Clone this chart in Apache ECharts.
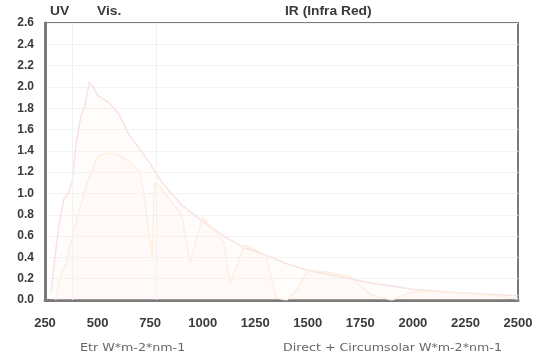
<!DOCTYPE html>
<html>
<head>
<meta charset="utf-8">
<script src="https://cdn.jsdelivr.net/npm/echarts@6/dist/echarts.min.js"></script>
<style>html,body{margin:0;padding:0;background:#fff}#c{width:537px;height:356px}</style>
</head>
<body>
<div id="c"></div>
<script>
var xTicks = [250, 500, 750, 1000, 1250, 1500, 1750, 2000, 2250, 2500];
var yTicks = [0.0, 0.2, 0.4, 0.6, 0.8, 1.0, 1.2, 1.4, 1.6, 1.8, 2.0, 2.2, 2.4, 2.6];
var bandLabels = ['UV', 'Vis.', 'IR (Infra Red)'];
var bandEdges = [380, 780];
var seriesNames = ['Etr W*m-2*nm-1', 'Direct + Circumsolar W*m-2*nm-1'];

var etrWl  = [280, 300, 320, 340, 360, 380, 400, 420, 440, 460, 480, 500, 550, 600, 650, 700, 750, 800, 900, 1000, 1100, 1200, 1300, 1400, 1500, 1600, 1700, 1800, 2000, 2200, 2400, 2500];
var etrVal = [0.08, 0.45, 0.75, 0.95, 1.00, 1.12, 1.50, 1.72, 1.82, 2.05, 2.00, 1.92, 1.86, 1.75, 1.55, 1.42, 1.28, 1.12, 0.89, 0.74, 0.60, 0.49, 0.42, 0.34, 0.28, 0.24, 0.20, 0.16, 0.10, 0.07, 0.05, 0.04];

var dirWl  = [300, 320, 350, 400, 450, 500, 550, 600, 650, 700, 720, 760, 770, 800, 900, 940, 1000, 1100, 1130, 1200, 1300, 1350, 1400, 1450, 1500, 1600, 1700, 1800, 1900, 2000, 2100, 2200, 2400, 2500];
var dirVal = [0.00, 0.20, 0.35, 0.75, 1.10, 1.35, 1.38, 1.36, 1.30, 1.20, 1.00, 0.40, 1.10, 1.05, 0.80, 0.35, 0.78, 0.55, 0.15, 0.52, 0.42, 0.02, 0.00, 0.10, 0.28, 0.26, 0.22, 0.05, 0.00, 0.08, 0.08, 0.07, 0.04, 0.01];

function pairs(xs, ys) { return xs.map(function (x, i) { return [x, ys[i]]; }); }

var chart = echarts.init(document.getElementById('c'), null, {renderer: 'canvas'});
var labelFont = {fontFamily: 'Liberation Sans', fontWeight: 'bold', fontSize: 12, color: '#3a3a3a'};
var topFont = 'bold 12px "Liberation Sans"';
var botFont = '11px "DejaVu Sans"';
chart.setOption({
  animation: false,
  backgroundColor: '#fff',
  grid: {left: 45, right: 19, top: 23, bottom: 56, show: true, borderColor: '#7a7a7a', borderWidth: 2, backgroundColor: '#fff'},
  xAxis: {
    type: 'value', min: xTicks[0], max: xTicks[xTicks.length - 1], interval: 250,
    axisLine: {show: true, onZero: false, lineStyle: {color: '#7a7a7a', width: 3}},
    axisTick: {show: false},
    splitLine: {show: false},
    axisLabel: Object.assign({margin: 17, showMinLabel: true, showMaxLabel: true, formatter: function (v) { return String(v); }}, labelFont, {fontSize: 13})
  },
  yAxis: {
    type: 'value', min: yTicks[0], max: yTicks[yTicks.length - 1], interval: 0.2,
    axisLine: {show: true, lineStyle: {color: '#7a7a7a', width: 3}},
    axisTick: {show: false},
    splitLine: {show: true, lineStyle: {color: '#f3f3f3', width: 1}},
    axisLabel: Object.assign({margin: 11, formatter: function (v) { return v.toFixed(1); }}, labelFont)
  },
  series: [
    {
      name: seriesNames[0], type: 'line', data: pairs(etrWl, etrVal), symbol: 'none',
      lineStyle: {color: '#f9e2e2', width: 1.5},
      areaStyle: {color: 'rgba(252,235,235,0.2)'},
      markLine: {
        silent: true, symbol: 'none', label: {show: false},
        lineStyle: {color: '#f0f3f0', type: 'solid', width: 1},
        data: bandEdges.map(function (e) { return {xAxis: e}; })
      }
    },
    {
      name: seriesNames[1], type: 'line', data: pairs(dirWl, dirVal), symbol: 'none',
      lineStyle: {color: '#fcefe2', width: 1.5},
      areaStyle: {color: 'rgba(253,242,230,0.25)'}
    }
  ],
  graphic: [
    {type: 'text', x: 50, y: 6, scaleX: 1.15, style: {text: bandLabels[0], fill: '#3a3a3a', font: topFont}},
    {type: 'text', x: 97, y: 6, scaleX: 1.15, style: {text: bandLabels[1], fill: '#3a3a3a', font: topFont}},
    {type: 'text', x: 285, y: 6, scaleX: 1.15, style: {text: bandLabels[2], fill: '#3a3a3a', font: topFont}},
    {type: 'text', x: 80, y: 343, scaleX: 1.15, style: {text: seriesNames[0], fill: '#666', font: botFont}},
    {type: 'text', x: 283, y: 343, scaleX: 1.15, style: {text: seriesNames[1], fill: '#666', font: botFont}}
  ]
});
</script>
</body>
</html>
